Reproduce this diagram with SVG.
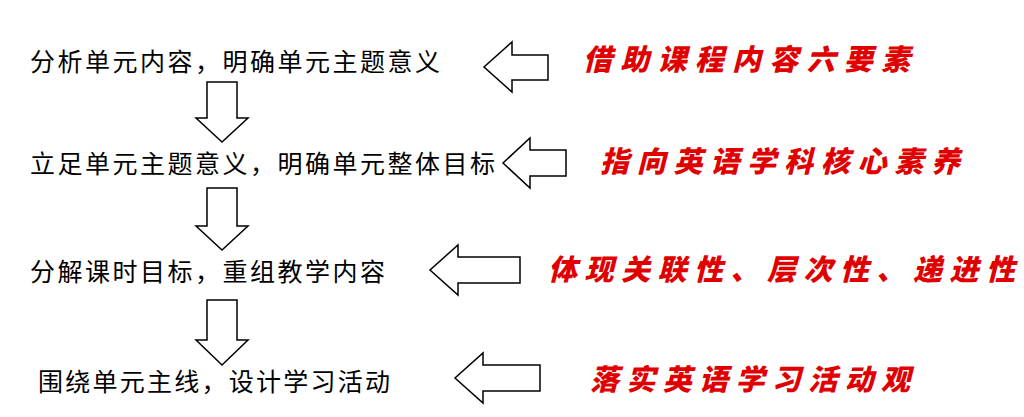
<svg xmlns="http://www.w3.org/2000/svg" width="1024" height="417" viewBox="0 0 1024 417">
<style>
.t{font-family:"Noto Sans CJK SC",sans-serif;font-size:25px;fill:#000}
.r{font-family:"Noto Sans CJK SC",sans-serif;font-size:29px;font-weight:900;fill:#e00000;font-style:italic}
.a{fill:#fff;stroke:#000;stroke-width:1.5}
</style>
<rect width="1024" height="417" fill="#fff"/>
<g id="n1"><text class="t" x="30" y="71" textLength="410" lengthAdjust="spacing">分析单元内容，明确单元主题意义</text></g>
<g id="n2"><text class="t" x="30" y="173" textLength="465" lengthAdjust="spacing">立足单元主题意义，明确单元整体目标</text></g>
<g id="n3"><text class="t" x="30" y="281" textLength="355" lengthAdjust="spacing">分解课时目标，重组教学内容</text></g>
<g id="n4"><text class="t" x="38" y="391" textLength="352" lengthAdjust="spacing">围绕单元主线，设计学习活动</text></g>
<g id="r1"><text class="r" x="583" y="70" textLength="327" lengthAdjust="spacing">借助课程内容六要素</text></g>
<g id="r2"><text class="r" x="600" y="172" textLength="360" lengthAdjust="spacing">指向英语学科核心素养</text></g>
<g id="r3"><text class="r" x="548" y="280" textLength="467" lengthAdjust="spacing">体现关联性、层次性、递进性</text></g>
<g id="r4"><text class="r" x="590" y="390" textLength="320" lengthAdjust="spacing">落实英语学习活动观</text></g>
<g id="connectors">
<polygon class="a" points="207,82 237,82 237,118 248,118 222,142 196,118 207,118"/>
<polygon class="a" points="207,188 237,188 237,226 248,226 222,250 196,226 207,226"/>
<polygon class="a" points="207,300 237,300 237,340 248,340 222,365 196,340 207,340"/>
<polygon class="a" points="548,55 548,80 512,80 512,92 484,67 512,42 512,55"/>
<polygon class="a" points="566,150 566,176 530,176 530,188 503,163 530,138 530,150"/>
<polygon class="a" points="520,257 520,283 458,283 458,295 430,270 458,245 458,257"/>
<polygon class="a" points="540,365 540,391 483,391 483,403 455,378 483,353 483,365"/>
</g>
</svg>
